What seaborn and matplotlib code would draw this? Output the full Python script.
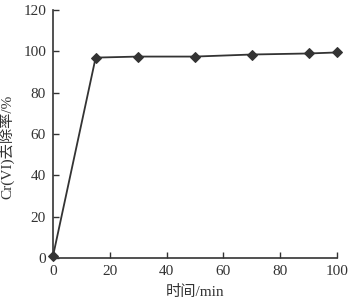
import matplotlib
matplotlib.use("Agg")
import matplotlib.pyplot as plt
import seaborn as sns
import pandas as pd

time_min = [0, 15, 30, 50, 70, 90, 100]
removal_pct = [1, 97, 97.5, 97.5, 98.5, 99, 99.5]
x_ticks = [0, 20, 40, 60, 80, 100]
y_ticks = [0, 20, 40, 60, 80, 100, 120]
x_label = "时间/min"
y_label = "Cr(VI)去除率/%"

sns.set_style("ticks")
plt.rcParams['font.family'] = ['Liberation Serif', 'Noto Sans CJK SC', 'DejaVu Sans']

df = pd.DataFrame({"t": time_min, "r": removal_pct})

fig = plt.figure(figsize=(3.56, 3.06), dpi=100)
ax = fig.add_axes([0.149, 0.157, 0.798, 0.81])
sns.lineplot(data=df, x="t", y="r", ax=ax, color="#333333", linewidth=1.3,
             marker="D", markersize=5.5, markeredgecolor="#333333",
             markerfacecolor="#333333", clip_on=False)
ax.set_xlim(0, 100)
ax.set_ylim(0, 120)
ax.set_xticks(x_ticks)
ax.set_yticks(y_ticks)
ax.tick_params(direction="in", length=4, width=1, labelsize=11, colors="#333333", pad=5)
for s in ["top", "right"]:
    ax.spines[s].set_visible(False)
for s in ["left", "bottom"]:
    ax.spines[s].set_color("#333333")
    ax.spines[s].set_linewidth(1.2)
ax.set_xlabel(x_label, fontsize=11, color="#333333", labelpad=5)
ax.set_ylabel(y_label, fontsize=11, color="#333333")
ax.yaxis.set_label_coords(-0.135, 0.45)
fig.savefig("out.png", dpi=100)
